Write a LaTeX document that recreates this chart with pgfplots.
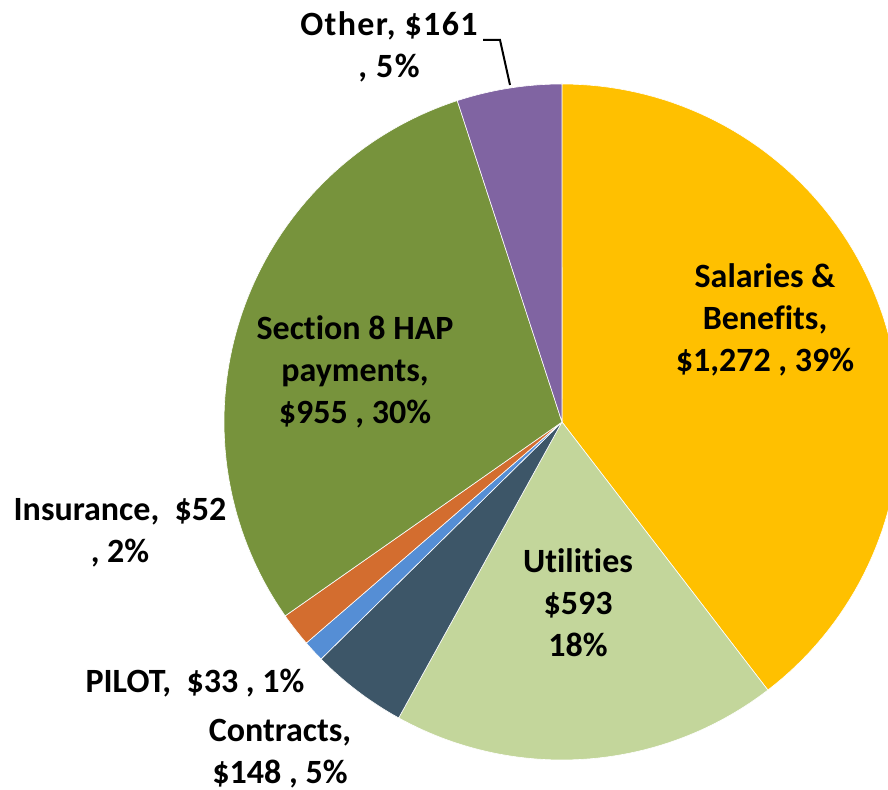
\documentclass[border=0pt]{standalone}
\usepackage{pgfplots}
\pgfplotsset{compat=1.18}
\usepackage{fontspec}
\setmainfont[Ligatures=NoCommon]{Carlito}
\definecolor{cSal}{HTML}{FFC000}
\definecolor{cUti}{HTML}{C3D69B}
\definecolor{cCon}{HTML}{3D5668}
\definecolor{cPil}{HTML}{558ED5}
\definecolor{cIns}{HTML}{D36D2F}
\definecolor{cSec}{HTML}{77933C}
\definecolor{cOth}{HTML}{8064A2}
% values ($ thousands)
\def\vA{1272}% Salaries & Benefits
\def\vB{593}%  Utilities
\def\vC{148}%  Contracts
\def\vD{33}%   PILOT
\def\vE{52}%   Insurance
\def\vF{955}%  Section 8 HAP payments
\def\vG{161}%  Other
\pgfmathsetmacro\tot{\vA+\vB+\vC+\vD+\vE+\vF+\vG}
\pgfmathsetmacro\aA{90}
\pgfmathsetmacro\aB{\aA-360*(\vA/\tot)}
\pgfmathsetmacro\aC{\aB-360*(\vB/\tot)}
\pgfmathsetmacro\aD{\aC-360*(\vC/\tot)}
\pgfmathsetmacro\aE{\aD-360*(\vD/\tot)}
\pgfmathsetmacro\aF{\aE-360*(\vE/\tot)}
\pgfmathsetmacro\aG{\aF-360*(\vF/\tot)}
\pgfmathsetmacro\aH{\aG-360*(\vG/\tot)}
\def\cx{562}\def\cy{368}\def\rr{338}
\begin{document}
\begin{tikzpicture}[lbl/.style={font=\fontsize{17}{21}\selectfont\bfseries, align=center, text=black, inner sep=0pt}]
\begin{axis}[
  width=444pt, height=395pt, scale only axis,
  xmin=0, xmax=888, ymin=0, ymax=790,
  hide axis, clip=true, clip mode=individual,
]
\addplot[fill=cSal, draw=white, line width=0.3pt, domain=\aB:\aA, samples=90] ({\cx+\rr*cos(x)},{\cy+\rr*sin(x)}) -- (axis cs:\cx,\cy) -- cycle;
\addplot[fill=cUti, draw=white, line width=0.3pt, domain=\aC:\aB, samples=60] ({\cx+\rr*cos(x)},{\cy+\rr*sin(x)}) -- (axis cs:\cx,\cy) -- cycle;
\addplot[fill=cCon, draw=white, line width=0.3pt, domain=\aD:\aC, samples=20] ({\cx+\rr*cos(x)},{\cy+\rr*sin(x)}) -- (axis cs:\cx,\cy) -- cycle;
\addplot[fill=cPil, draw=white, line width=0.3pt, domain=\aE:\aD, samples=8] ({\cx+\rr*cos(x)},{\cy+\rr*sin(x)}) -- (axis cs:\cx,\cy) -- cycle;
\addplot[fill=cIns, draw=white, line width=0.3pt, domain=\aF:\aE, samples=8] ({\cx+\rr*cos(x)},{\cy+\rr*sin(x)}) -- (axis cs:\cx,\cy) -- cycle;
\addplot[fill=cSec, draw=white, line width=0.3pt, domain=\aG:\aF, samples=80] ({\cx+\rr*cos(x)},{\cy+\rr*sin(x)}) -- (axis cs:\cx,\cy) -- cycle;
\addplot[fill=cOth, draw=white, line width=0.3pt, domain=\aH:\aG, samples=20] ({\cx+\rr*cos(x)},{\cy+\rr*sin(x)}) -- (axis cs:\cx,\cy) -- cycle;
\draw[black, line width=1pt] (axis cs:483,750) -- (axis cs:500,750) -- (axis cs:510,705);
\node[lbl] at (axis cs:765,470) {Salaries \&\\Benefits,\\\$1,272 , 39\%};
\node[lbl] at (axis cs:355,418) {Section 8 HAP\\payments,\\\$955 , 30\%};
\node[lbl] at (axis cs:578,187) {Utilities\\\$593\\18\%};
\node[lbl] at (axis cs:120,257) {Insurance,~ \$52\\, 2\%};
\node[lbl] at (axis cs:195,107) {PILOT,~ \$33 , 1\%};
\node[lbl] at (axis cs:280,36) {Contracts,\\\$148 , 5\%};
\node[lbl] at (axis cs:389,743) {\addfontfeature{LetterSpace=4}Other, \$161\\\addfontfeature{LetterSpace=4}, 5\%};
\end{axis}
\pgfresetboundingbox
\useasboundingbox (0,0) rectangle (444pt,395pt);
\end{tikzpicture}
\end{document}
